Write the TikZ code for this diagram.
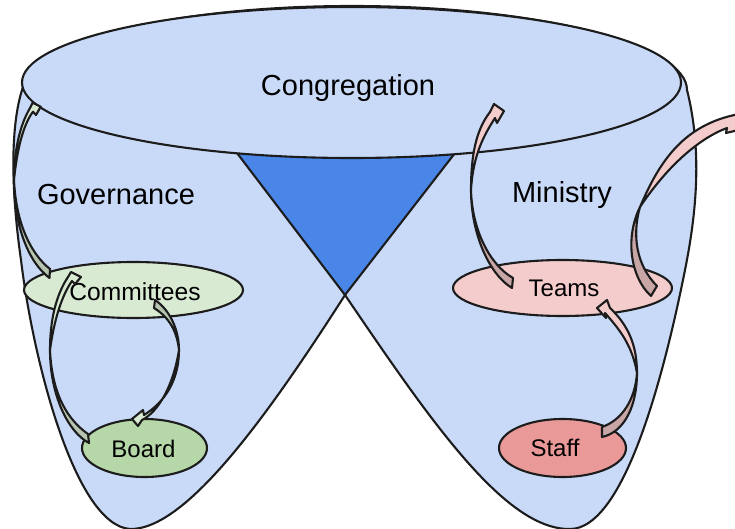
\documentclass[tikz,border=0pt]{standalone}
\usepackage{fontspec}
\setmainfont{Liberation Sans}
\usetikzlibrary{shapes.geometric,calc}
\definecolor{bodyblue}{HTML}{C9DAF8}
\definecolor{wedgeblue}{HTML}{4A86E8}
\definecolor{lightgreen}{HTML}{D9EAD3}
\definecolor{midgreen}{HTML}{B6D7A8}
\definecolor{lightred}{HTML}{F4CCCC}
\definecolor{midred}{HTML}{EA9999}
\definecolor{shadegreen}{HTML}{B7C5B0}
\definecolor{shadered}{HTML}{C9A6A6}
\definecolor{inkline}{HTML}{1C1C1C}
\tikzset{
  outline/.style={draw=inkline,line width=2.1pt,line join=round},
  blob/.style={ellipse,outline,inner sep=0pt,outer sep=0pt},
  bigtext/.style={font=\fontsize{29}{32}\selectfont},
  smalltext/.style={font=\fontsize{24}{27}\selectfont},
  greenface/.style={outline,fill=lightgreen},
  greenshade/.style={outline,fill=shadegreen},
  redface/.style={outline,fill=lightred},
  redshade/.style={outline,fill=shadered},
}
\begin{document}
\begin{tikzpicture}[x=1pt,y=-1pt]
\clip (0,0) rectangle (735,529);
% body with two lobes
\path[outline,fill=bodyblue]
  (23,87) .. controls (10,125) and (11,190) .. (21,260)
  .. controls (33,360) and (75,525) .. (130,529)
  .. controls (185,530) and (265,420) .. (345,295)
  .. controls (430,420) and (505,530) .. (570,529)
  .. controls (625,529) and (665,370) .. (685,270)
  .. controls (697,210) and (702,150) .. (687,90)
  .. controls (687,45) and (540,6) .. (352,6)
  .. controls (165,6) and (23,45) .. (23,87) -- cycle;
\path[outline,fill=wedgeblue] (237,153) -- (345,295) -- (455,153) -- cycle;
% nodes
\node[blob,fill=bodyblue,minimum width=659pt,minimum height=151pt,
      label={[bigtext,xshift=-3.5pt,yshift=-5.5pt]center:Congregation}] (congregation) at (351.5,82.5) {};
\node[bigtext] (governance) at (116,195) {Governance};
\node[bigtext] (ministry) at (562,195) {Ministry};
\node[blob,fill=lightgreen,minimum width=219pt,minimum height=56pt,
      label={[font=\fontsize{24.6}{27}\selectfont,xshift=1.5pt,yshift=-1.5pt]center:Committees}] (committees) at (133.5,290) {};
\node[blob,fill=midgreen,minimum width=125pt,minimum height=58pt,
      label={[smalltext,yshift=-1pt,xshift=-1pt]center:Board}] (board) at (144.5,448) {};
\node[blob,fill=lightred,minimum width=219pt,minimum height=56pt,
      label={[smalltext,xshift=1.5pt,yshift=-0.5pt]center:Teams}] (teams) at (562.5,288) {};
\node[blob,fill=midred,minimum width=127pt,minimum height=58pt,
      label={[smalltext,xshift=-7.5pt]center:Staff}] (staff) at (562.5,448) {};
% arrow anchors, relative to the nodes they join
\coordinate (aTop)  at ($(committees)+(-83.5,-21)$);
\coordinate (aBot)  at ($(committees)+(-84,-12)$);
\coordinate (aTip)  at ($(congregation)+(-310.8,24.2)$);
\coordinate (bTop)  at ($(board)+(-56.5,-14)$);
\coordinate (bBot)  at ($(board)+(-55.5,-5)$);
\coordinate (bTip)  at ($(committees)+(-52.5,-13)$);
\coordinate (cTop)  at ($(committees)+(21.5,10)$);
\coordinate (cBot)  at ($(committees)+(20.5,18)$);
\coordinate (cTip)  at ($(board)+(-12.5,-29)$);
\coordinate (dTop)  at ($(teams)+(-49.5,-10)$);
\coordinate (dBot)  at ($(teams)+(-50.5,0)$);
\coordinate (dTip)  at ($(congregation)+(152.5,28.5)$);
\coordinate (eTop)  at ($(teams)+(94.5,-2)$);
\coordinate (eBot)  at ($(teams)+(88.5,8)$);
\coordinate (eTip)  at (760,125);
\coordinate (fTop)  at ($(staff)+(39.5,-21)$);
\coordinate (fBot)  at ($(staff)+(39.5,-11)$);
\coordinate (fTip)  at ($(teams)+(34.5,20)$);
% Committees to Congregation
\path[greenshade] (aBot) .. controls (28,262) and (14,225) .. (14,180)
  .. controls (16,225) and (32,255) .. (aTop) -- cycle;
\path[greenface] (14,180) .. controls (14,150) and (20,125) .. (30,108)
  -- (32.7,102.7) -- (aTip) -- (36,115) -- (33,111.7)
  .. controls (23,125) and (17,150) .. (14,180) -- cycle;
% Board to Committees
\path[greenshade] (bBot) .. controls (68,432) and (50,395) .. (50,350)
  .. controls (52,395) and (68,420) .. (bTop) -- cycle;
\path[greenface] (50,350) .. controls (50,320) and (56,295) .. (68,277)
  -- (71,272) -- (bTip) -- (75,284) -- (72,281)
  .. controls (62,295) and (54,320) .. (50,350) -- cycle;
% Committees to Board
\path[greenshade] (cTop) .. controls (170,310) and (179,330) .. (179,350)
  .. controls (177,332) and (170,318) .. (cBot) -- cycle;
\path[greenface] (179,350) .. controls (179,380) and (165,402) .. (144,415)
  -- (143,410) -- (cTip) -- (138,426) -- (142,420)
  .. controls (158,412) and (173,387) .. (179,350) -- cycle;
% Teams to Congregation
\path[redshade] (dBot) .. controls (490,275) and (471,235) .. (471,190)
  .. controls (472,230) and (490,265) .. (dTop) -- cycle;
\path[redface] (471,190) .. controls (471,155) and (476,130) .. (490,112)
  -- (494,104) -- (dTip) -- (497,123) -- (495,118)
  .. controls (484,135) and (473,155) .. (471,190) -- cycle;
% Teams to outside
\path[redshade] (eBot) .. controls (630,277) and (625,237) .. (640,207)
  .. controls (632,235) and (636,265) .. (eTop) -- cycle;
\path[redface] (640,207) .. controls (660,160) and (685,122) .. (745,113)
  -- (eTip) -- (726,133) -- (727,128)
  .. controls (700,138) and (668,165) .. (640,207) -- cycle;
% Staff to Teams
\path[redshade] (fBot) .. controls (625,432) and (637,405) .. (637,373)
  .. controls (635,400) and (622,420) .. (fTop) -- cycle;
\path[redface] (637,373) .. controls (637,345) and (628,325) .. (610,308)
  -- (607,300) -- (fTip) -- (606,318) -- (605,313)
  .. controls (620,330) and (632,345) .. (637,373) -- cycle;
\end{tikzpicture}
\end{document}
